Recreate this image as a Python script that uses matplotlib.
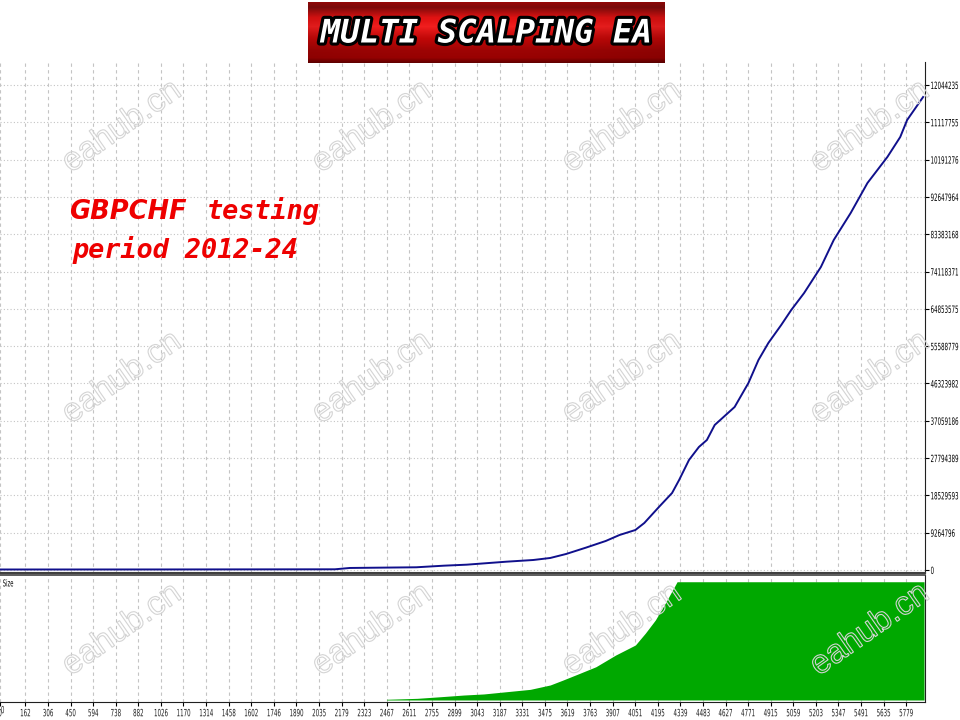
import numpy as np
import matplotlib
matplotlib.use('Agg')
import matplotlib.pyplot as plt
import matplotlib.patheffects as pe
from matplotlib.transforms import Affine2D


# equity curve (trade number, balance)
trades = [0, 1000, 2136, 2231, 2655, 2832, 2977, 3230, 3401, 3509, 3610, 3736, 3863,
          3951, 4052, 4109, 4204, 4286, 4331, 4394, 4457, 4508, 4558, 4685, 4773,
          4837, 4900, 4982, 5046, 5128, 5235, 5317, 5425, 5532, 5659, 5741, 5785, 5887]
balance_m = [0.12, 0.13, 0.17, 0.50, 0.67, 1.07, 1.32, 2.06, 2.48, 2.98, 3.97, 5.54, 7.20,
             8.69, 9.93, 11.67, 15.72, 19.12, 22.35, 27.32, 30.54, 32.28, 36.01, 40.48, 46.44,
             52.15, 56.37, 60.84, 64.56, 68.78, 75.24, 81.95, 88.65, 96.10, 102.56, 107.52, 111.74, 117.46]

# lot size panel
size_trades = [2465, 2661, 2813, 2958, 3085, 3230, 3382, 3509, 3591, 3698, 3800, 3926,
               4052, 4116, 4179, 4242, 4318, 5893]
size_vals = [0.6, 1.4, 2.8, 4.2, 5.1, 7.0, 9.0, 12.7, 16.9, 22.6, 28.1, 38.0,
             46.5, 56.6, 67.6, 81.7, 100, 100]

x_labels = [0, 162, 306, 450, 594, 738, 882, 1026, 1170, 1314, 1458, 1602, 1746, 1890,
            2035, 2179, 2323, 2467, 2611, 2755, 2899, 3043, 3187, 3331, 3475, 3619, 3763,
            3907, 4051, 4195, 4339, 4483, 4627, 4771, 4915, 5059, 5203, 5347, 5491, 5635, 5779]
y_step = 9264796
y_labels = ['0', '9264796', '18529593', '27794389', '37059186', '46323982', '55588779',
            '64853575', '74118371', '83383168', '92647964', '10191276', '11117755', '12044235']

W, H = 960, 720


class Squeeze(pe.AbstractPathEffect):
    # narrow the glyphs horizontally (the terminal font is a condensed one)
    def __init__(self, sx, center=True):
        super().__init__()
        self.sx = sx
        self.center = center

    def draw_path(self, renderer, gc, tpath, affine, rgbFace=None):
        e = tpath.get_extents()
        c = (e.x0 + e.x1) / 2 if self.center else 0
        t = Affine2D().translate(-c, 0).scale(self.sx, 1).translate(c, 0) + affine
        renderer.draw_path(gc, tpath, t, rgbFace)


def px_rect(l, t, r, b):
    return [l / W, 1 - b / H, (r - l) / W, (b - t) / H]


fig = plt.figure(figsize=(9.6, 7.2), dpi=100)
fig.patch.set_facecolor('white')

ax = fig.add_axes(px_rect(0, 62, 925, 573))
ax2 = fig.add_axes(px_rect(0, 575, 925, 702))

xmin, xmax = 49, 5899
grid_col = '#c4c4c4'
lab_size = 7.2
sq = 0.55

# upper panel: balance
ax.plot(trades, np.array(balance_m) * 1e6, color='#10108c', lw=1.4, zorder=3)
ax.set_xlim(xmin, xmax)
ax.set_ylim(-0.75e6, 126.15e6)
yt = np.arange(len(y_labels)) * y_step
ax.set_yticks(yt)
ax.set_yticklabels(y_labels, fontsize=lab_size, color='#202020',
                   path_effects=[Squeeze(sq, center=False)])
ax.yaxis.tick_right()
ax.tick_params(axis='y', length=3, width=0.8, pad=1.0, colors='black')
ax.set_xticks(x_labels)
ax.tick_params(axis='x', length=0, labelbottom=False)
for v in yt:
    ax.axhline(v, color=grid_col, lw=0.8, ls=(0, (1, 2)), zorder=1)
for v in x_labels:
    ax.axvline(v, color=grid_col, lw=0.8, ls=(0, (3, 3)), zorder=1)
for s in ['left', 'top']:
    ax.spines[s].set_visible(False)
ax.spines['right'].set_color('#202020')
ax.spines['bottom'].set_color('#404040')
ax.spines['bottom'].set_linewidth(1.5)

# lower panel: size
ax2.fill_between(size_trades, 0, size_vals, color='#00a800', lw=0, zorder=3)
ax2.set_xlim(xmin, xmax)
ax2.set_ylim(-1.7, 105.7)
ax2.set_yticks([])
ax2.set_xticks(x_labels)
ax2.set_xticklabels([str(v) for v in x_labels], fontsize=lab_size, color='#202020',
                    path_effects=[Squeeze(sq)])
ax2.tick_params(axis='x', length=3, width=0.8, pad=1.5)
for v in x_labels:
    ax2.axvline(v, color=grid_col, lw=0.8, ls=(0, (3, 3)), zorder=1)
ax2.spines['left'].set_visible(False)
ax2.spines['top'].set_color('#404040')
ax2.spines['top'].set_linewidth(1.2)
ax2.spines['right'].set_color('#202020')
ax2.spines['bottom'].set_color('#202020')
ax2.text(0.003, 0.93, 'Size', transform=ax2.transAxes, fontsize=6.8, va='center',
         ha='left', path_effects=[Squeeze(sq, center=False)])
ax2.text(0.001, -0.065, '0', transform=ax2.transAxes, fontsize=lab_size, va='center',
         ha='left', color='#202020', path_effects=[Squeeze(sq, center=False)])

# overlay: banner, annotations, watermark
ov = fig.add_axes([0, 0, 1, 1])
ov.patch.set_alpha(0)
ov.axis('off')

bl, br, bt, bb = 308, 665, 2, 63
rows = np.linspace(0, 1, 61)
red = np.interp(rows, [0, 0.08, 0.25, 0.4, 0.55, 0.8, 0.92, 1.0],
                [0.6, 0.5, 0.88, 0.95, 0.8, 0.62, 0.6, 0.4])
gb = np.interp(rows, [0, 0.3, 0.4, 0.6, 1.0], [0.03, 0.08, 0.12, 0.03, 0.0])
cols = np.linspace(0, 1, 357)
shade = 0.9 + 0.1 * np.cos((cols - 0.45) * 3)
img = np.zeros((61, 357, 3))
img[:, :, 0] = np.clip(red[:, None] * shade[None, :], 0, 1)
img[:, :, 1] = gb[:, None] * shade[None, :]
img[:, :, 2] = gb[:, None] * shade[None, :]
ov.imshow(img, extent=(bl, br, H - bb, H - bt), aspect='auto', zorder=1)
ov.text((bl + br) / 2, H - 34, 'MULTI SCALPING EA', family='DejaVu Sans Mono',
        weight='bold', style='italic', fontsize=23.3, color='white', ha='center',
        va='center', zorder=2,
        path_effects=[pe.Stroke(linewidth=4.5, foreground='black'), pe.Normal()])

red_txt = '#ee0000'
ov.text(69, H - 219, 'GBPCHF', family='DejaVu Sans', weight='bold', style='italic',
        fontsize=18.5, color=red_txt, va='baseline', ha='left')
ov.text(207, H - 219, 'testing', family='DejaVu Sans Mono', weight='bold',
        style='italic', fontsize=19.4, color=red_txt, va='baseline', ha='left')
ov.text(72, H - 258, 'period 2012-24', family='DejaVu Sans Mono', weight='bold',
        style='italic', fontsize=19.4, color=red_txt, va='baseline', ha='left')

# watermark: outlined, hollow lettering
wm_x = [122, 372, 622, 870]
wm_y = [127, 378, 630]
for yy in wm_y:
    for xx in wm_x:
        ov.text(xx, H - yy, 'eahub.cn', family='Liberation Sans', fontsize=24,
                rotation=35, rotation_mode='anchor', ha='center', va='center',
                color=(1, 1, 1, 0), zorder=3,
                path_effects=[pe.Stroke(linewidth=0.8, foreground='#d4d4d4')])

ov.set_xlim(0, W)
ov.set_ylim(0, H)

fig.savefig('out.png', dpi=100)
